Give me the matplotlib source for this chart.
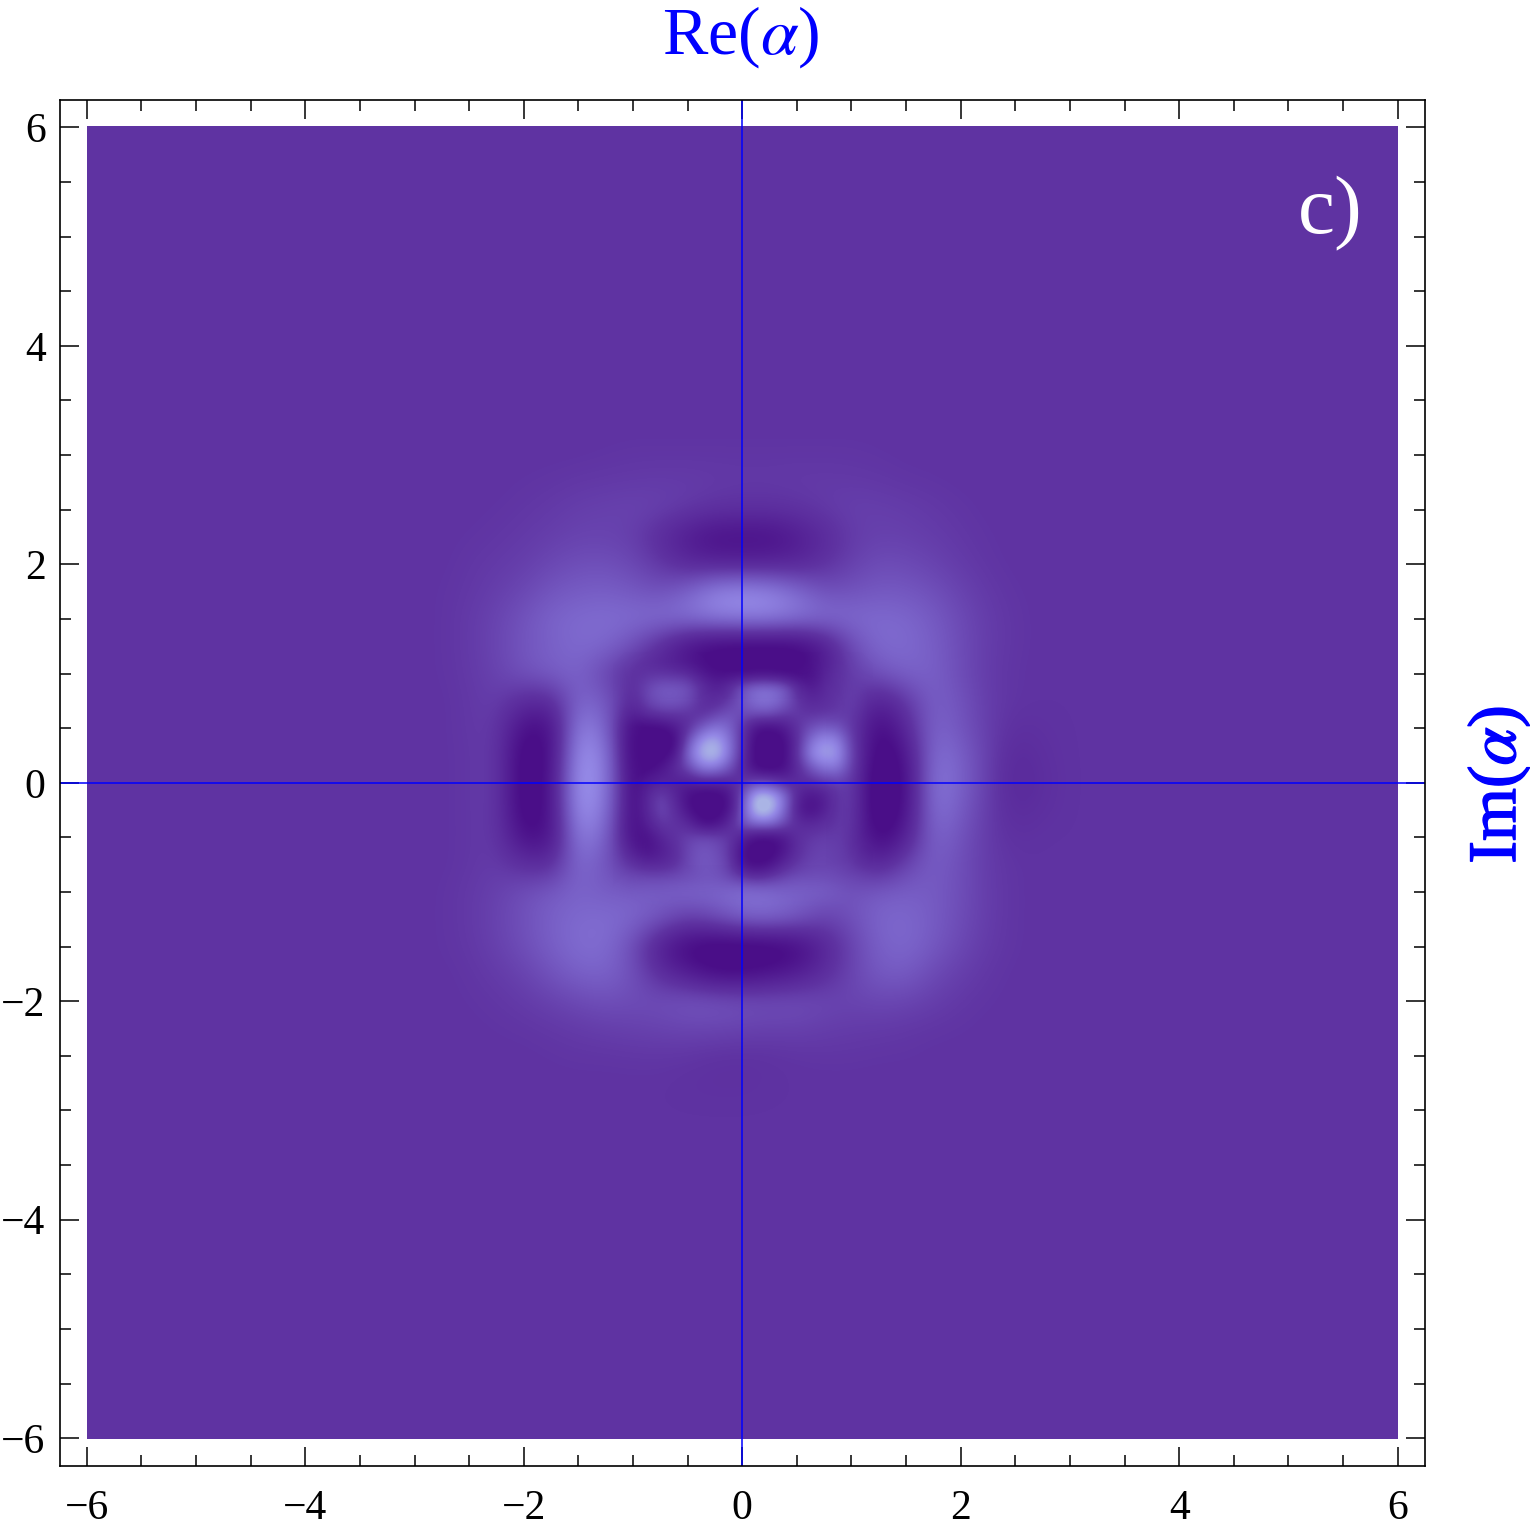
import numpy as np
import matplotlib
matplotlib.use('Agg')
import matplotlib.pyplot as plt
import matplotlib.patheffects as pe
from matplotlib.colors import LinearSegmentedColormap
from matplotlib.patches import Rectangle
from matplotlib.ticker import MultipleLocator

plt.rcParams['font.family'] = ['Liberation Serif', 'DejaVu Serif']
plt.rcParams['mathtext.fontset'] = 'stix'

# density on a 0.25 grid (colour scale runs -50 to 100)
# rows run from Im=3 down to Im=-3, columns from Re=-3 to Re=3
grid_step = 0.25
row_3p00 = [0,0,0,0,0,0,0,1,2,2,2,2,2,2,2,2,2,1,0,0,0,0,0,0,0]
row_2p75 = [0,0,0,0,1,2,4,5,6,7,7,6,5,5,6,6,5,4,2,1,0,0,0,0,0]
row_2p50 = [0,0,0,1,3,6,10,12,14,12,6,0,-2,-2,0,6,11,10,8,5,2,0,0,0,0]
row_2p25 = [0,0,1,3,6,10,14,14,10,-10,-32,-48,-48,-48,-32,-12,7,12,11,8,4,1,0,0,0]
row_2p00 = [0,0,3,6,10,18,24,25,18,3,-15,-22,-24,-22,-18,-3,12,22,20,14,7,2,0,0,0]
row_1p75 = [0,1,4,10,18,30,36,38,32,25,42,72,78,72,50,25,27,33,32,25,14,5,1,0,0]
row_1p50 = [0,1,6,15,28,42,48,50,50,52,58,68,72,72,62,52,48,48,45,35,20,8,2,0,0]
row_1p25 = [0,1,6,16,30,40,48,46,25,-10,-50,-65,-68,-68,-65,-35,22,48,48,38,22,8,2,0,0]
row_1p00 = [0,1,5,14,28,38,42,15,-10,-20,-25,-55,-55,-55,-58,-25,10,30,42,40,22,7,1,0,0]
row_0p75 = [0,0,4,10,-8,-10,45,35,-8,28,22,-15,30,52,0,-8,12,-25,5,40,28,8,1,0,0]
row_0p50 = [0,0,4,7,-50,-50,72,48,-55,-55,-5,50,0,-50,0,30,5,-60,-15,45,30,9,-4,-2,0]
row_0p25 = [0,0,3,7,-70,-50,88,65,-60,-60,45,92,-10,-60,0,78,20,-75,-40,55,40,10,-12,-4,0]
row_0p00 = [0,0,3,8,-70,-45,95,65,-50,-20,-25,-20,0,10,-10,5,5,-80,-50,62,42,9,-15,-6,0]
row_m0p25 = [0,0,3,7,-70,-45,90,60,-50,18,-45,-60,30,95,-30,-25,5,-80,-45,58,36,7,-10,-4,0]
row_m0p50 = [0,0,3,6,-50,-45,70,45,-50,-20,10,12,-25,-50,-5,8,0,-65,-25,46,28,6,-3,0,0]
row_m0p75 = [0,0,3,8,-6,-10,50,30,-5,-15,15,25,-45,-45,5,15,5,-20,15,38,24,7,1,0,0]
row_m1p00 = [0,1,5,12,24,34,42,36,38,38,40,42,55,50,42,38,28,35,38,35,24,8,1,0,0]
row_m1p25 = [0,1,5,14,26,40,48,50,45,30,12,25,45,50,35,12,25,44,46,36,22,8,1,0,0]
row_m1p50 = [0,1,4,12,24,38,50,50,22,-30,-62,-72,-72,-72,-58,-20,14,40,46,33,18,6,1,0,0]
row_m1p75 = [0,0,2,7,14,28,40,42,26,-8,-30,-52,-52,-42,-30,-8,16,34,35,20,10,3,0,0,0]
row_m2p00 = [0,0,1,3,7,13,20,25,22,24,30,30,26,24,24,18,15,18,16,10,4,1,0,0,0]
row_m2p25 = [0,0,0,1,2,4,7,10,12,14,16,16,14,12,12,9,7,6,4,2,1,0,0,0,0]
row_m2p50 = [0,0,0,0,0,1,2,2,3,3,2,-1,-2,-1,1,2,2,1,1,0,0,0,0,0,0]
row_m2p75 = [0,0,0,0,0,0,0,0,0,0,-2,-3,-3,-1,0,0,0,0,0,0,0,0,0,0,0]
row_m3p00 = [0,0,0,0,0,0,0,0,0,0,0,0,0,0,0,0,0,0,0,0,0,0,0,0,0]

density = np.array([row_3p00, row_2p75, row_2p50, row_2p25, row_2p00, row_1p75,
                    row_1p50, row_1p25, row_1p00, row_0p75, row_0p50, row_0p25,
                    row_0p00, row_m0p25, row_m0p50, row_m0p75, row_m1p00, row_m1p25,
                    row_m1p50, row_m1p75, row_m2p00, row_m2p25, row_m2p50, row_m2p75,
                    row_m3p00], dtype=float)

# centre of the picture read again on a 0.125 grid, Re and Im from 1.125 to -1.125
fine_step = 0.125
core = np.array([
    [15,10,0,-5,-15,-30,-50,-60,-60,-60,-60,-60,-60,-60,-50,-20,5,12,18],
    [5,0,5,8,5,0,-30,-50,-45,-50,-45,-45,-50,-60,-55,-20,0,10,15],
    [-5,0,18,32,32,25,-5,-25,-10,28,48,48,34,-10,-35,-12,0,10,15],
    [-15,-8,18,32,34,25,-5,-15,5,34,56,58,40,0,-18,-8,2,12,12],
    [-30,-20,-5,5,5,0,-5,12,28,22,28,28,10,5,0,2,5,8,0],
    [-50,-55,-55,-55,-35,-5,35,58,45,0,-45,-50,-35,0,24,36,30,5,-10],
    [-55,-60,-60,-60,-60,30,88,100,58,-5,-60,-60,-55,-5,58,82,70,18,-25],
    [-50,-60,-60,-60,-40,50,100,110,62,-10,-60,-60,-55,0,75,92,84,24,-25],
    [-50,-55,-55,-40,-10,18,62,62,28,-15,-55,-60,-50,-10,30,58,58,18,-20],
    [-50,-50,-30,-20,-25,-25,-20,-20,-15,0,18,12,-10,-10,-5,5,12,5,-15],
    [-55,-50,-15,15,-15,-50,-60,-60,-45,30,108,105,58,-20,-40,-25,5,8,-10],
    [-55,-50,-15,22,-5,-45,-60,-60,-45,35,118,112,52,-30,-50,-25,5,5,-10],
    [-50,-50,-25,6,0,-15,-50,-50,-15,34,58,58,24,-10,-15,-5,5,5,-15],
    [-45,-50,-45,-20,0,12,18,14,5,-25,-50,-50,-35,-5,5,8,8,0,-30],
    [-20,-40,-45,-30,-10,18,32,25,5,-50,-60,-60,-40,-5,10,15,10,0,-30],
    [5,-5,-15,-15,-5,18,32,28,10,-45,-55,-45,-15,5,15,15,12,5,-10],
    [25,22,20,20,22,25,30,30,20,5,-5,5,18,25,25,25,20,15,15],
    [38,38,38,38,40,40,40,42,48,55,55,50,45,42,40,38,32,28,28],
    [45,45,45,45,45,45,45,48,52,60,65,60,52,48,42,40,38,36,36],
], dtype=float)

cmap_levels = [-50, 0, 45, 75, 100]
cmap_colors = ['#4a0e88', '#5f33a2', '#7c66cc', '#9488e6', '#aab4e5']
axis_ticks = [-6, -4, -2, 0, 2, 4, 6]

cmap_pos = [(v + 50) / 150 for v in cmap_levels]
cmap = LinearSegmentedColormap.from_list('wigner', list(zip(cmap_pos, cmap_colors)))

# flat background out to +-6
full = np.pad(density, 12)

fig = plt.figure(figsize=(15.3, 15.32), dpi=100)
ax = fig.add_axes([59.5 / 1530, 1 - 1465.5 / 1532, 1365.5 / 1530, 1365.5 / 1532])

half = 6 + grid_step / 2
im = ax.imshow(full, extent=[-half, half, -half, half], cmap=cmap, vmin=-50, vmax=100,
               interpolation='bicubic', interpolation_stage='data', aspect='auto')
im.set_clip_path(Rectangle((-6.0, -6.01), 12.0, 12.02, transform=ax.transData))

# fine patch on top, faded out towards its edge so no seam shows
core_half = 1.125 + fine_step / 2
edge = np.clip((1.125 - np.abs(np.arange(-9, 10) * fine_step)) / 0.25, 0, 1)
ax.imshow(core, extent=[-core_half, core_half, -core_half, core_half], cmap=cmap, vmin=-50, vmax=100,
          interpolation='bicubic', interpolation_stage='data', aspect='auto',
          alpha=np.outer(edge, edge))

ax.axhline(0, color='#0000ff', lw=1.1)
ax.axvline(0, color='#0000ff', lw=1.1)

ax.set_xlim(-6.25, 6.25)
ax.set_ylim(-6.25, 6.25)
ax.set_xticks(axis_ticks)
ax.set_yticks(axis_ticks)
ax.xaxis.set_minor_locator(MultipleLocator(0.5))
ax.yaxis.set_minor_locator(MultipleLocator(0.5))
ax.tick_params(which='major', direction='in', top=True, right=True, length=14, width=1.1, labelsize=30)
ax.tick_params(which='minor', direction='in', top=True, right=True, length=8, width=1.1)
ax.tick_params(axis='x', which='major', pad=17)
ax.tick_params(axis='y', which='major', pad=10)
for s in ax.spines.values():
    s.set_linewidth(1.2)

fig.text(741 / 1530, 1 - 37 / 1532, r'Re($\alpha$)', color='#0000ff', fontsize=49, ha='center', va='center')
im_label = fig.text(1499 / 1530, 1 - 785 / 1532, r'Im($\alpha$)', color='#0000ff', fontsize=49, ha='center',
                    va='center', rotation=90)
# the rotated label prints heavier in the original
im_label.set_path_effects([pe.withStroke(linewidth=1, foreground='#0000ff')])
fig.text(1330 / 1530, 1 - 214 / 1532, 'c)', color='white', fontsize=60, ha='center', va='center')

fig.savefig('out.png', dpi=100)
